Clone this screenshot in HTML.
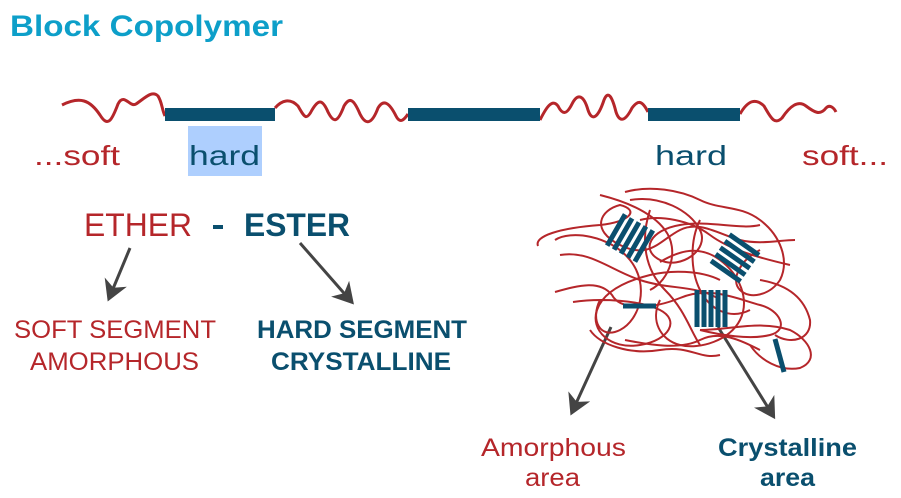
<!DOCTYPE html>
<html><head><meta charset="utf-8"><style>
html,body{margin:0;padding:0;background:#fff;}
svg{display:block;}
text{font-family:"Liberation Sans",sans-serif;}
</style></head><body>
<svg width="901" height="498" viewBox="0 0 901 498" xmlns="http://www.w3.org/2000/svg">
<defs><marker id="ah" markerWidth="8" markerHeight="8" refX="5" refY="4" orient="auto" markerUnits="strokeWidth"><path d="M0,0 L7,4 L0,8 L2,4 Z" fill="#444"/></marker></defs>
<text x="10" y="36" font-size="30" font-weight="bold" fill="#0d9fc9" textLength="273" lengthAdjust="spacingAndGlyphs">Block Copolymer</text>
<g fill="none" stroke="#b5262a" stroke-width="3">
<path d="M62,105 C80,96 90,100 100,115 C108,128 112,120 118,104 C124,92 130,108 136,104 C145,98 152,90 158,96 C162,102 162,110 165,116"/>
<path d="M275,108 C282,100 290,98 298,106 C304,116 306,122 312,110 C318,100 322,98 328,112 C334,124 338,122 344,106 C350,96 354,100 360,114 C366,126 372,124 378,108 C384,98 390,104 396,116 C400,124 404,120 408,114"/>
<path d="M540,120 C546,108 552,98 558,106 C562,114 566,116 572,104 C578,92 584,96 588,110 C592,122 598,118 604,100 C608,90 612,96 616,112 C620,124 626,120 632,108 C638,100 642,100 648,112"/>
<path d="M740,114 C748,100 756,98 764,106 C770,116 774,126 782,118 C790,106 798,100 806,106 C814,112 820,116 826,108 C830,104 834,108 836,112"/>
</g>
<g fill="#0a4f6e"><rect x="165" y="108" width="110" height="13"/><rect x="408" y="108" width="132" height="13"/><rect x="648" y="108" width="92" height="13"/></g>
<text x="34" y="165" font-size="28" fill="#b5262a" textLength="86" lengthAdjust="spacingAndGlyphs">...soft</text>
<rect x="188" y="126" width="74" height="50" fill="#aecffe"/>
<text x="189" y="165" font-size="28" fill="#0a4f6e" textLength="71" lengthAdjust="spacingAndGlyphs">hard</text>
<text x="655" y="165" font-size="28" fill="#0a4f6e" textLength="72" lengthAdjust="spacingAndGlyphs">hard</text>
<text x="802" y="165" font-size="28" fill="#b5262a" textLength="86" lengthAdjust="spacingAndGlyphs">soft...</text>
<text x="84" y="236" font-size="32" fill="#b5262a" textLength="108" lengthAdjust="spacingAndGlyphs">ETHER</text>
<rect x="213" y="225" width="10" height="4" fill="#0a4f6e"/>
<text x="244" y="236" font-size="32" font-weight="bold" fill="#0a4f6e" textLength="106" lengthAdjust="spacingAndGlyphs">ESTER</text>
<g stroke="#444" stroke-width="3" fill="none" marker-end="url(#ah)">
<line x1="130" y1="248" x2="110" y2="296"/>
<line x1="300" y1="243" x2="350" y2="300"/>
<line x1="611" y1="327" x2="573" y2="410"/>
<line x1="718" y1="327" x2="772" y2="414"/>
</g>
<text x="14" y="338" font-size="25" fill="#b5262a" textLength="202" lengthAdjust="spacingAndGlyphs">SOFT SEGMENT</text>
<text x="30" y="370" font-size="25" fill="#b5262a" textLength="169" lengthAdjust="spacingAndGlyphs">AMORPHOUS</text>
<text x="257" y="338" font-size="25" font-weight="bold" fill="#0a4f6e" textLength="210" lengthAdjust="spacingAndGlyphs">HARD SEGMENT</text>
<text x="271" y="370" font-size="25" font-weight="bold" fill="#0a4f6e" textLength="180" lengthAdjust="spacingAndGlyphs">CRYSTALLINE</text>
<g fill="none" stroke="#b5262a" stroke-width="2">
<path d="M538,246 C534,236 560,228 600,225 C630,222 640,210 620,205 C600,210 590,230 620,245 C650,260 660,240 680,230 C700,220 720,235 740,240 C760,245 780,240 795,240"/>
<path d="M555,292 C580,285 600,280 612,295 C620,310 650,310 680,298 C710,285 740,300 760,305 C780,310 790,330 770,335 C750,340 720,335 700,330"/>
<path d="M573,302 C600,298 640,300 660,310 C680,320 670,340 640,345 C610,350 590,330 597,310 C604,290 630,280 650,275 C670,270 700,270 720,280"/>
<path d="M625,192 C650,185 680,190 700,200 C720,210 740,205 760,220 C780,235 790,260 780,280 C770,295 750,300 740,290 C730,280 740,260 760,250"/>
<path d="M555,240 C570,230 610,235 630,260 C650,285 640,320 620,330 C600,340 590,320 600,300"/>
<path d="M660,262 C680,250 700,245 720,260 C740,275 750,300 740,320 C730,340 700,350 680,345 C660,340 650,320 660,300"/>
<path d="M700,330 C730,330 760,320 790,330 C810,340 820,360 800,368 C780,372 760,360 750,345"/>
<path d="M640,220 C660,215 690,220 710,235 C730,250 760,258 790,265"/>
<path d="M625,340 C650,345 680,350 700,340 C720,330 740,340 760,350"/>
<path d="M600,195 C620,200 650,210 665,230 C680,250 670,280 650,290"/>
<path d="M700,220 C690,240 690,270 700,290 C710,310 730,320 750,310"/>
<path d="M560,255 C590,250 610,270 640,280 C670,290 700,285 720,300"/>
<path d="M630,200 C660,195 690,210 700,230 C710,250 680,270 660,260 C640,250 650,230 680,225 C710,220 740,230 760,225"/>
<path d="M590,330 C600,345 630,355 660,350 C690,345 700,360 720,355"/>
<path d="M760,280 C790,285 805,300 810,320 C812,340 790,345 775,335"/>
<path d="M650,210 C640,240 645,270 665,290 C685,310 690,330 700,345"/>
</g>
<g stroke="#0a4f6e" stroke-width="5">
<g transform="rotate(30 630 238)"><line x1="614" y1="220" x2="614" y2="256"/><line x1="622" y1="220" x2="622" y2="256"/><line x1="630" y1="220" x2="630" y2="256"/><line x1="638" y1="220" x2="638" y2="256"/><line x1="646" y1="220" x2="646" y2="256"/></g>
<g transform="rotate(-55 735 258)"><line x1="719" y1="240" x2="719" y2="276"/><line x1="727" y1="240" x2="727" y2="276"/><line x1="735" y1="240" x2="735" y2="276"/><line x1="743" y1="240" x2="743" y2="276"/><line x1="751" y1="240" x2="751" y2="276"/></g>
<line x1="697" y1="290" x2="697" y2="327"/><line x1="704" y1="290" x2="704" y2="327"/><line x1="711" y1="290" x2="711" y2="327"/><line x1="718" y1="290" x2="718" y2="327"/><line x1="725" y1="290" x2="725" y2="327"/>
<line x1="623" y1="306" x2="656" y2="306"/>
<line x1="775" y1="339" x2="784" y2="372"/>
</g>
<text x="481" y="456" font-size="25" fill="#b5262a" textLength="145" lengthAdjust="spacingAndGlyphs">Amorphous</text>
<text x="525" y="486" font-size="25" fill="#b5262a" textLength="55" lengthAdjust="spacingAndGlyphs">area</text>
<text x="718" y="456" font-size="25" font-weight="bold" fill="#0a4f6e" textLength="139" lengthAdjust="spacingAndGlyphs">Crystalline</text>
<text x="760" y="486" font-size="25" font-weight="bold" fill="#0a4f6e" textLength="55" lengthAdjust="spacingAndGlyphs">area</text>
</svg>
</body></html>
